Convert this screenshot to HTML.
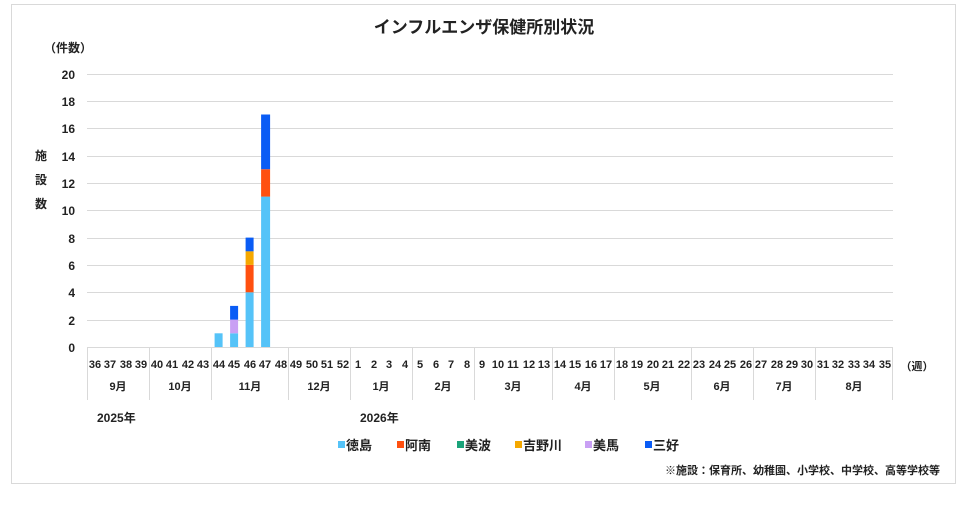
<!DOCTYPE html>
<html><head><meta charset="utf-8"><style>
html,body{margin:0;padding:0;background:#fff;}
svg text{font-family:"Liberation Sans","Noto Sans CJK JP",sans-serif;font-weight:bold;fill:#222;}
</style></head><body>
<svg width="968" height="502" xmlns="http://www.w3.org/2000/svg">
<rect x="11.5" y="4.5" width="944" height="479" fill="#fff" stroke="#d9d9d9"/>
<text x="484" y="33" font-size="17" text-anchor="middle">インフルエンザ保健所別状況</text>
<text x="68" y="52" font-size="12" text-anchor="middle">（件数）</text>
<g font-size="12" text-anchor="middle">
<text x="41" y="160">施</text><text x="41" y="184">設</text><text x="41" y="208">数</text>
</g>
<g stroke="#d9d9d9" stroke-width="1">
<line x1="87" x2="893" y1="74.5" y2="74.5"/><line x1="87" x2="893" y1="101.5" y2="101.5"/>
<line x1="87" x2="893" y1="128.5" y2="128.5"/><line x1="87" x2="893" y1="156.5" y2="156.5"/>
<line x1="87" x2="893" y1="183.5" y2="183.5"/><line x1="87" x2="893" y1="210.5" y2="210.5"/>
<line x1="87" x2="893" y1="238.5" y2="238.5"/><line x1="87" x2="893" y1="265.5" y2="265.5"/>
<line x1="87" x2="893" y1="292.5" y2="292.5"/><line x1="87" x2="893" y1="320.5" y2="320.5"/>
<line x1="87" x2="893" y1="347.5" y2="347.5"/>
</g>
<g font-size="12" text-anchor="end">
<text x="75" y="79">20</text><text x="75" y="106">18</text><text x="75" y="133">16</text>
<text x="75" y="161">14</text><text x="75" y="188">12</text><text x="75" y="215">10</text>
<text x="75" y="243">8</text><text x="75" y="270">6</text><text x="75" y="297">4</text>
<text x="75" y="325">2</text><text x="75" y="352">0</text>
</g>
<g>
<rect x="214.6" y="333.3" width="8" height="13.7" fill="#55c3f8"/>
<rect x="230.1" y="333.3" width="8" height="13.7" fill="#55c3f8"/>
<rect x="230.1" y="319.6" width="8" height="13.7" fill="#c9a0f4"/>
<rect x="230.1" y="305.9" width="8" height="13.7" fill="#0a5cf5"/>
<rect x="245.6" y="292.3" width="8" height="54.7" fill="#55c3f8"/>
<rect x="245.6" y="264.9" width="8" height="27.4" fill="#ff5010"/>
<rect x="245.6" y="251.2" width="8" height="13.7" fill="#f5a800"/>
<rect x="245.6" y="237.6" width="8" height="13.7" fill="#0a5cf5"/>
<rect x="261.1" y="196.6" width="9" height="150.4" fill="#55c3f8"/>
<rect x="261.1" y="169.2" width="9" height="27.4" fill="#ff5010"/>
<rect x="261.1" y="114.5" width="9" height="54.7" fill="#0a5cf5"/>
</g>
<g stroke="#d9d9d9">
<line x1="87.5" x2="87.5" y1="347" y2="400"/><line x1="149.5" x2="149.5" y1="347" y2="400"/>
<line x1="211.5" x2="211.5" y1="347" y2="400"/><line x1="288.5" x2="288.5" y1="347" y2="400"/>
<line x1="350.5" x2="350.5" y1="347" y2="400"/><line x1="412.5" x2="412.5" y1="347" y2="400"/>
<line x1="474.5" x2="474.5" y1="347" y2="400"/><line x1="552.5" x2="552.5" y1="347" y2="400"/>
<line x1="614.5" x2="614.5" y1="347" y2="400"/><line x1="691.5" x2="691.5" y1="347" y2="400"/>
<line x1="753.5" x2="753.5" y1="347" y2="400"/><line x1="815.5" x2="815.5" y1="347" y2="400"/>
<line x1="892.5" x2="892.5" y1="347" y2="400"/>
</g>
<g font-size="11" text-anchor="middle">
<text x="118" y="390">9月</text><text x="180" y="390">10月</text><text x="250" y="390">11月</text>
<text x="319" y="390">12月</text><text x="381" y="390">1月</text><text x="443" y="390">2月</text>
<text x="513" y="390">3月</text><text x="583" y="390">4月</text><text x="652" y="390">5月</text>
<text x="722" y="390">6月</text><text x="784" y="390">7月</text><text x="854" y="390">8月</text>
</g>
<text x="917" y="370" font-size="11" text-anchor="middle">（週）</text>
<text x="97" y="422" font-size="12">2025年</text>
<text x="360" y="422" font-size="12">2026年</text>
<g font-size="13">
<rect x="338" y="441" width="7" height="7" fill="#55c3f8"/><text x="346" y="450">徳島</text>
<rect x="397" y="441" width="7" height="7" fill="#ff5010"/><text x="405" y="450">阿南</text>
<rect x="457" y="441" width="7" height="7" fill="#1aa37a"/><text x="465" y="450">美波</text>
<rect x="515" y="441" width="7" height="7" fill="#f5a800"/><text x="523" y="450">吉野川</text>
<rect x="585" y="441" width="7" height="7" fill="#c9a0f4"/><text x="593" y="450">美馬</text>
<rect x="645" y="441" width="7" height="7" fill="#0a5cf5"/><text x="653" y="450">三好</text>
</g>
<text x="940" y="474" font-size="11" text-anchor="end">※施設：保育所、幼稚園、小学校、中学校、高等学校等</text>
<g font-size="11" text-anchor="middle">
<text x="95" y="368">36</text><text x="110" y="368">37</text><text x="126" y="368">38</text><text x="141" y="368">39</text>
<text x="157" y="368">40</text><text x="172" y="368">41</text><text x="188" y="368">42</text><text x="203" y="368">43</text>
<text x="219" y="368">44</text><text x="234" y="368">45</text><text x="250" y="368">46</text><text x="265" y="368">47</text>
<text x="281" y="368">48</text><text x="296" y="368">49</text><text x="312" y="368">50</text><text x="327" y="368">51</text>
<text x="343" y="368">52</text><text x="358" y="368">1</text><text x="374" y="368">2</text><text x="389" y="368">3</text>
<text x="405" y="368">4</text><text x="420" y="368">5</text><text x="436" y="368">6</text><text x="451" y="368">7</text>
<text x="467" y="368">8</text><text x="482" y="368">9</text><text x="498" y="368">10</text><text x="513" y="368">11</text>
<text x="529" y="368">12</text><text x="544" y="368">13</text><text x="560" y="368">14</text><text x="575" y="368">15</text>
<text x="591" y="368">16</text><text x="606" y="368">17</text><text x="622" y="368">18</text><text x="637" y="368">19</text>
<text x="653" y="368">20</text><text x="668" y="368">21</text><text x="684" y="368">22</text><text x="699" y="368">23</text>
<text x="715" y="368">24</text><text x="730" y="368">25</text><text x="746" y="368">26</text><text x="761" y="368">27</text>
<text x="777" y="368">28</text><text x="792" y="368">29</text><text x="807" y="368">30</text><text x="823" y="368">31</text>
<text x="838" y="368">32</text><text x="854" y="368">33</text><text x="869" y="368">34</text><text x="885" y="368">35</text>
</g>
</svg>
</body></html>
